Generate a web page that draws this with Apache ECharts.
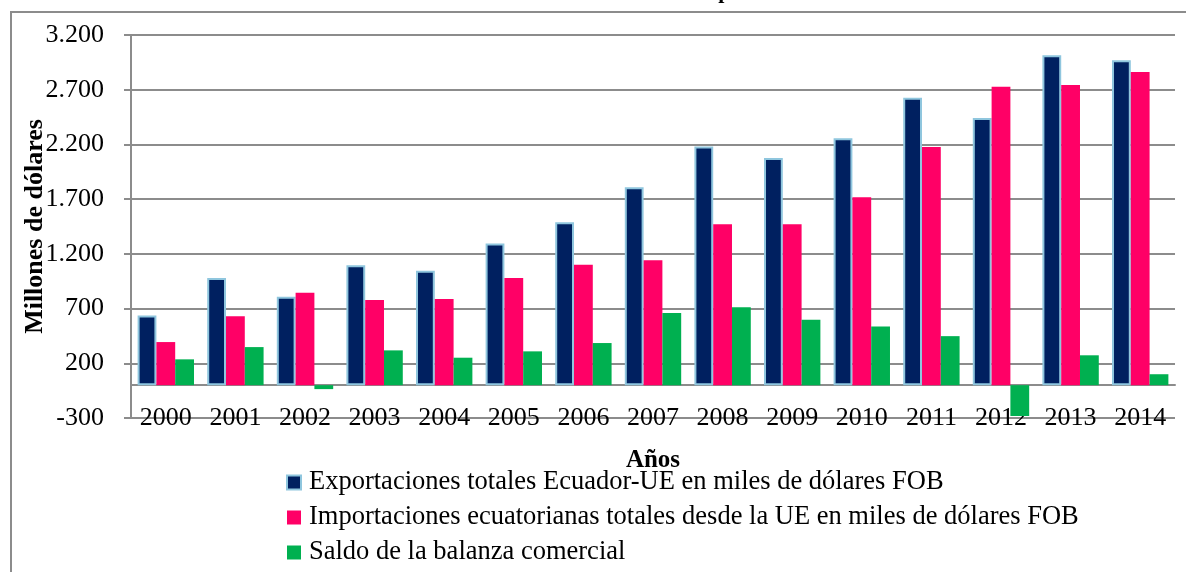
<!DOCTYPE html>
<html>
<head>
<meta charset="utf-8">
<script src="https://cdn.jsdelivr.net/npm/echarts@6/dist/echarts.min.js"></script>
<style>
  html, body { margin: 0; padding: 0; background: #fff; }
  #chart { width: 1186px; height: 572px; }
</style>
</head>
<body>
<div id="chart"></div>
<script>
  var years = ['2000', '2001', '2002', '2003', '2004', '2005', '2006', '2007', '2008', '2009', '2010', '2011', '2012', '2013', '2014'];
  var exportaciones = [636, 979, 809, 1097, 1045, 1294, 1488, 1809, 2182, 2076, 2257, 2627, 2442, 3015, 2969];
  var importaciones = [394, 630, 845, 779, 788, 979, 1100, 1142, 1470, 1470, 1718, 2176, 2727, 2742, 2863];
  var saldo = [236, 348, -36, 318, 251, 309, 385, 660, 712, 597, 536, 448, -282, 273, 100];
  var seriesNames = [
    'Exportaciones totales Ecuador-UE en miles de dólares FOB',
    'Importaciones ecuatorianas totales desde la UE en miles de dólares FOB',
    'Saldo de la balanza comercial'
  ];

  var serif = 'Liberation Serif';
  var gray = '#8c8c8c';

  // 3200 -> "3.200"
  function fmt(v) {
    var s = String(Math.abs(v));
    if (s.length > 3) s = s.slice(0, s.length - 3) + '.' + s.slice(s.length - 3);
    return (v < 0 ? '-' : '') + s;
  }

  var myChart = echarts.init(document.getElementById('chart'));
  var options = {
    animation: false,
    title: {
      text: 'Evolución de las corrientes comerciales por cada año',
      left: 'center',
      top: -24,
      textStyle: { fontFamily: serif, fontSize: 22, fontWeight: 'bold', color: '#000' }
    },
    graphic: [
      {
        type: 'rect',
        shape: { x: 11, y: 12, width: 1300, height: 700 },
        style: { fill: 'none', stroke: gray, lineWidth: 2 },
        silent: true
      }
    ],
    legend: {
      orient: 'vertical',
      left: 286,
      top: 469,
      padding: 0,
      icon: 'rect',
      itemWidth: 14,
      itemHeight: 14,
      itemGap: 8,
      textStyle: { fontFamily: serif, fontSize: 26.5, color: '#000', lineHeight: 26, padding: [0, 0, 0, 3] },
      data: seriesNames
    },
    grid: { left: 131, right: 11, top: 35, bottom: 154 },
    xAxis: {
      type: 'category',
      data: years,
      name: 'Años',
      nameLocation: 'middle',
      nameGap: 30,
      nameTextStyle: { fontFamily: serif, fontSize: 25, fontWeight: 'bold', color: '#000' },
      axisLine: { onZero: true, lineStyle: { color: gray, width: 2 } },
      axisTick: { length: 7, lineStyle: { color: gray, width: 2 } },
      axisLabel: { margin: -13, fontFamily: serif, fontSize: 26, color: '#000' }
    },
    yAxis: {
      type: 'value',
      min: -300,
      max: 3200,
      interval: 500,
      name: 'Millones de dólares',
      nameLocation: 'middle',
      nameGap: 83,
      nameMoveOverlap: false,
      nameTextStyle: { fontFamily: serif, fontSize: 26, fontWeight: 'bold', color: '#000' },
      axisLine: { show: true, lineStyle: { color: gray, width: 2 } },
      axisTick: { show: true, length: 7, lineStyle: { color: gray, width: 2 } },
      axisLabel: { margin: 27, fontFamily: serif, fontSize: 26, color: '#000', formatter: fmt },
      splitLine: { lineStyle: { color: gray, width: 2 } }
    },
    series: [
      {
        name: seriesNames[0],
        type: 'bar',
        data: exportaciones,
        barGap: '0%',
        barCategoryGap: '19%',
        itemStyle: { color: '#002060', borderColor: '#8fc6de', borderWidth: 2 }
      },
      {
        name: seriesNames[1],
        type: 'bar',
        data: importaciones,
        itemStyle: { color: '#ff0066' }
      },
      {
        name: seriesNames[2],
        type: 'bar',
        data: saldo,
        itemStyle: { color: '#00b050' }
      }
    ]
  };
  myChart.setOption(options);
</script>
</body>
</html>
